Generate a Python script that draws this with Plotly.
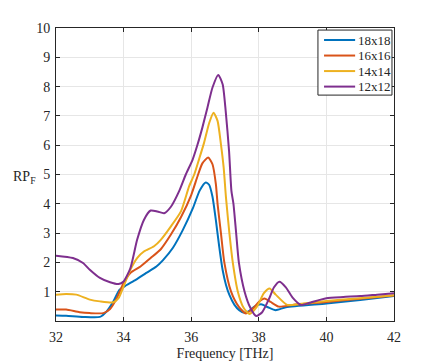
import plotly.graph_objects as go

names = ["18x18", "16x16", "14x14", "12x12"]
colors = ["#0072BD", "#D95319", "#EDB120", "#7E2F8E"]

x_18 = [32.0, 32.3, 32.8, 33.3, 33.5, 33.7, 33.88, 34.08, 34.37, 34.67, 34.97, 35.16, 35.46, 35.75, 36.05, 36.25, 36.43,
        36.53, 36.63, 36.73, 36.83, 36.93, 37.03, 37.13, 37.28, 37.42, 37.57, 37.72, 37.87, 38.07, 38.27, 38.5, 38.8, 40.0, 41.0, 42.0]
y_18 = [0.19, 0.18, 0.14, 0.14, 0.33, 0.67, 1.07, 1.22, 1.41, 1.64, 1.86, 2.07, 2.5, 3.1, 3.85, 4.45, 4.73,
        4.65, 4.24, 3.44, 2.53, 1.74, 1.23, 0.89, 0.55, 0.37, 0.28, 0.35, 0.49, 0.57, 0.47, 0.37, 0.47, 0.6, 0.72, 0.85]

x_16 = [32.0, 32.3, 32.7, 33.0, 33.4, 33.6, 33.8, 34.0, 34.2, 34.5, 34.8, 35.1, 35.4, 35.7, 36.0, 36.19, 36.33, 36.5,
        36.63, 36.73, 36.78, 36.88, 36.98, 37.18, 37.4, 37.62, 37.85, 38.0, 38.17, 38.35, 38.6, 39.0, 40.0, 41.0, 42.0]
y_16 = [0.39, 0.39, 0.3, 0.27, 0.27, 0.41, 0.78, 1.3, 1.64, 1.86, 2.15, 2.45, 2.95, 3.55, 4.3, 4.95, 5.38, 5.58,
        5.35, 4.67, 4.0, 3.0, 2.0, 1.0, 0.5, 0.26, 0.45, 0.65, 0.77, 0.65, 0.49, 0.55, 0.65, 0.76, 0.87]

x_14 = [32.0, 32.3, 32.6, 33.0, 33.3, 33.7, 33.85, 34.0, 34.2, 34.4, 34.6, 34.9, 35.1, 35.4, 35.7, 35.94, 36.09, 36.24, 36.38,
        36.53, 36.66, 36.78, 36.88, 36.96, 37.03, 37.13, 37.23, 37.38, 37.55, 37.72, 37.95, 38.15, 38.32, 38.5, 38.84, 39.2, 40.0, 41.0, 42.0]
y_14 = [0.9, 0.92, 0.9, 0.73, 0.67, 0.64, 0.78, 1.18, 1.75, 2.15, 2.37, 2.55, 2.77, 3.23, 3.75, 4.6, 5.0, 5.55, 6.08,
        6.75, 7.11, 6.83, 6.03, 5.24, 4.2, 3.0, 2.0, 1.0, 0.45, 0.24, 0.5, 0.95, 1.11, 0.9, 0.55, 0.58, 0.68, 0.78, 0.88]

x_12 = [32.0, 32.5, 32.8, 33.0, 33.3, 33.6, 33.85, 34.0, 34.2, 34.4, 34.6, 34.8, 35.0, 35.2, 35.4, 35.65, 35.84, 36.04, 36.19,
        36.33, 36.48, 36.63, 36.8, 36.93, 37.02, 37.12, 37.19, 37.25, 37.33, 37.41, 37.58, 37.75, 37.92, 38.1, 38.3, 38.45, 38.61,
        38.8, 39.0, 39.25, 39.5, 39.8, 40.0, 40.5, 41.0, 41.5, 42.0]
y_12 = [2.23, 2.15, 1.98, 1.75, 1.47, 1.32, 1.26, 1.35, 1.8, 2.77, 3.45, 3.77, 3.74, 3.68, 3.9, 4.45, 5.0, 5.5, 6.03,
        6.6, 7.28, 7.97, 8.4, 8.08, 7.17, 5.8, 4.44, 4.0, 3.0, 2.0, 1.0, 0.45, 0.17, 0.3, 0.75, 1.15, 1.34,
        1.15, 0.8, 0.55, 0.62, 0.72, 0.78, 0.82, 0.85, 0.9, 0.95]

xs = [x_18, x_16, x_14, x_12]
ys = [y_18, y_16, y_14, y_12]

x_ticks = [32, 34, 36, 38, 40, 42]
y_ticks = [1, 2, 3, 4, 5, 6, 7, 8, 9, 10]

fig = go.Figure()
for n, c, xx, yy in zip(names, colors, xs, ys):
    fig.add_trace(go.Scatter(x=xx, y=yy, mode="lines", name=n, showlegend=False, hoverinfo="skip",
                             line=dict(color=c, width=2, shape="spline", smoothing=0.6)))

serif = "Liberation Serif, Times New Roman, serif"
ink = "#262626"
font = dict(family=serif, size=14, color=ink)
axis_common = dict(showline=True, linecolor=ink, linewidth=1, mirror="ticks",
                   ticks="inside", ticklen=4, tickcolor=ink, automargin=False,
                   showgrid=True, gridcolor="#e6e6e6", gridwidth=1, zeroline=False,
                   tickfont=font)

fig.update_layout(
    width=436, height=362,
    margin=dict(l=56, r=42, t=28, b=41),
    paper_bgcolor="white", plot_bgcolor="white",
    font=font,
    hovermode=False,
    xaxis=dict(range=[32, 42], tickvals=x_ticks, ticktext=[str(v) for v in x_ticks], ticklabelstandoff=3,
               title=dict(text="Frequency [THz]", font=font, standoff=4), **axis_common),
    yaxis=dict(range=[0, 10], tickvals=y_ticks, ticktext=[str(v) for v in y_ticks], ticklabelstandoff=2,
               **axis_common),
    showlegend=False,
)

# compact MATLAB-style legend box
box_x0, box_x1, box_y0, box_y1 = 0.775, 0.994, 0.771, 0.993
fig.add_shape(type="rect", xref="paper", yref="paper", x0=box_x0, x1=box_x1, y0=box_y0, y1=box_y1,
              line=dict(color=ink, width=1), fillcolor="white", layer="above")
row_y = [0.959, 0.906, 0.853, 0.800]
for n, c, ry in zip(names, colors, row_y):
    fig.add_shape(type="line", xref="paper", yref="paper", x0=0.793, x1=0.885, y0=ry, y1=ry,
                  line=dict(color=c, width=2), layer="above")
    fig.add_annotation(text=n, xref="paper", yref="paper", x=0.889, y=ry, xanchor="left", yanchor="middle",
                       showarrow=False, font=dict(family=serif, size=13, color=ink))

fig.add_annotation(text="RP<sub>F</sub>", xref="paper", yref="paper", x=-0.054, y=0.49,
                   xanchor="right", yanchor="middle", showarrow=False,
                   font=dict(family=serif, size=14, color=ink))

fig.write_html("out.html", config={"displayModeBar": False, "staticPlot": True},
               post_script="document.body.style.margin='0px';")
